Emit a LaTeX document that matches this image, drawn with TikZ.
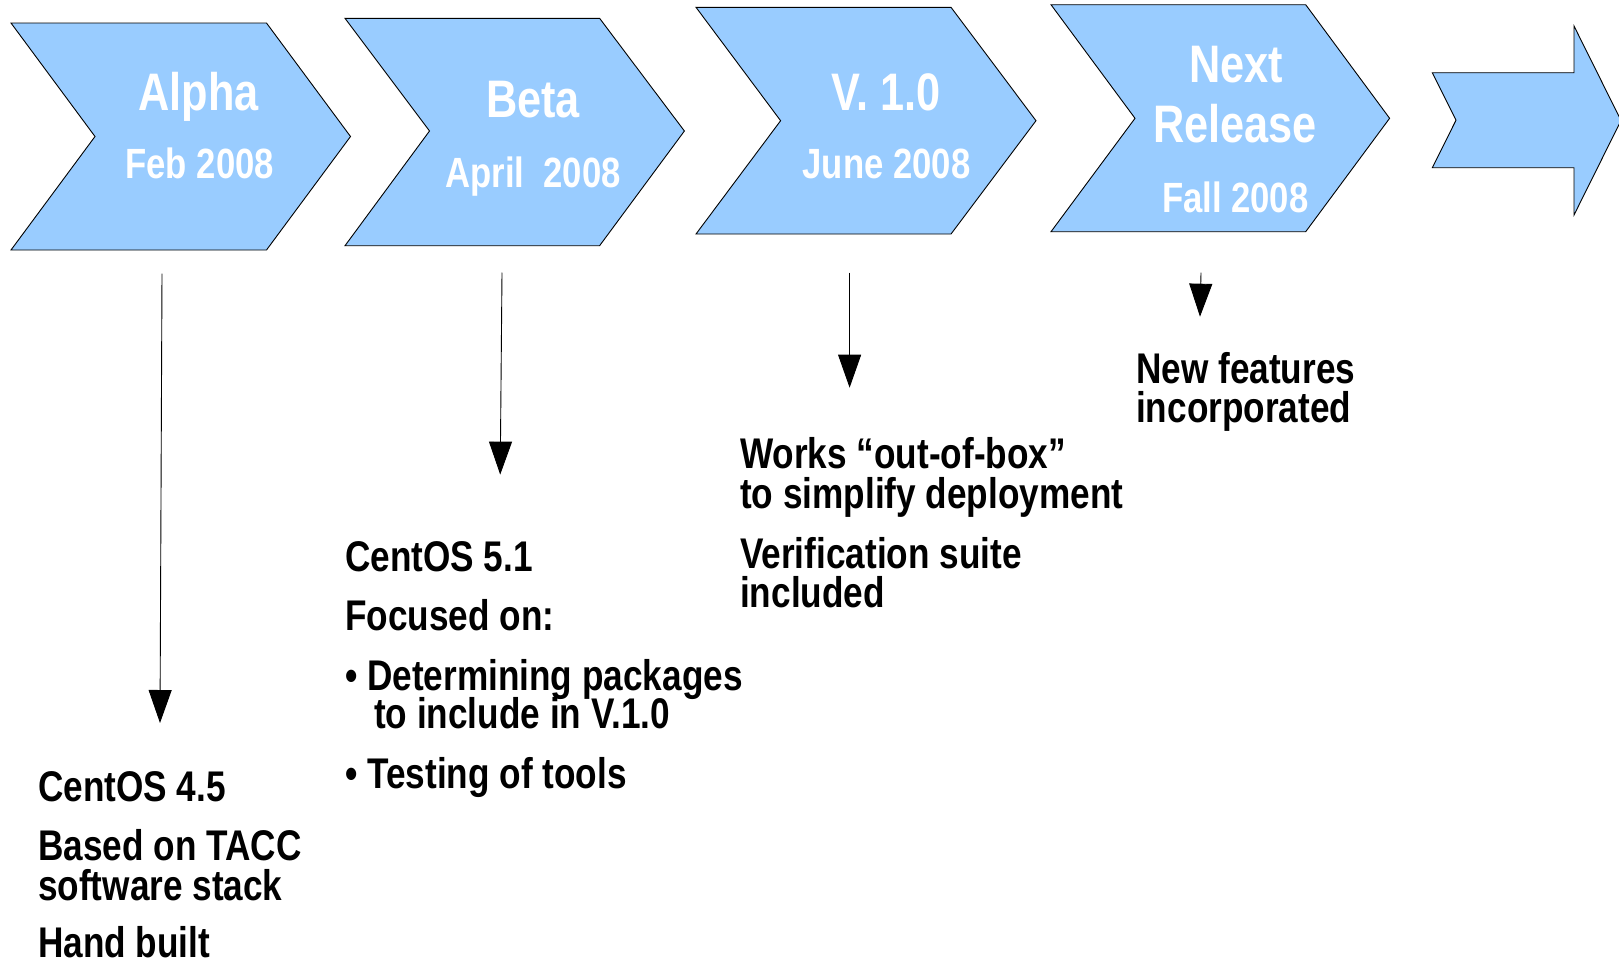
\documentclass[tikz,border=0pt]{standalone}
\usepackage{fontspec}
\setmainfont{Liberation Sans}[FakeStretch=0.82]
\usetikzlibrary{arrows.meta}
\definecolor{phasefill}{HTML}{99CCFF}
\begin{document}
\begin{tikzpicture}[x=1pt,y=-1pt,
  phase/.style={fill=phasefill, draw=black, line width=0.9pt, line join=miter},
  title/.style={text=white, font=\fontsize{52.8}{52.8}\selectfont\bfseries, anchor=base, inner sep=0pt},
  date/.style={text=white, font=\fontsize{42.3}{42.3}\selectfont\bfseries, anchor=base, inner sep=0pt},
  note/.style={text=black, font=\fontsize{42.9}{42.9}\selectfont\bfseries, anchor=base west, inner sep=0pt},
  drop/.style={draw=black, line width=0.9pt, -{Triangle[length=33pt,width=23pt]}}
]
\useasboundingbox (0,0) rectangle (1619,961);

% release phases
\draw[phase] (11,23) -- (266.5,23) -- (350.5,136.5) -- (266.5,250) -- (11,250) -- (95,136.5) -- cycle;
\draw[phase] (345,18.3) -- (599.6,18.3) -- (684.4,131) -- (599.6,245.7) -- (345,245.7) -- (429.5,131) -- cycle;
\draw[phase] (696,7.3) -- (951,7.3) -- (1036,120.7) -- (951,234) -- (696,234) -- (780.6,120.7) -- cycle;
\draw[phase] (1051,4.7) -- (1305.7,4.7) -- (1389.6,118.3) -- (1305.7,231.7) -- (1051,231.7) -- (1135,118.3) -- cycle;
% continuing arrow
\draw[phase] (1432.3,72.7) -- (1574,72.7) -- (1574,26) -- (1621,120.5) -- (1574,215) -- (1574,167.7) -- (1432.3,167.7) -- (1456,120.2) -- cycle;

% phase labels
\node[title] (alpha) at (198.5,110) {Alpha};
\node[date]  (alphadate) at (199.7,178.5) {Feb 2008};
\node[title] (beta) at (533,117) {Beta};
\node[date]  (betadate) at (533,187) {April~~2008};
\node[title] (vone) at (886,110) {V. 1.0};
\node[date]  (vonedate) at (886.5,178.5) {June 2008};
\node[title] (next) at (1236,82) {Next};
\node[title] (release) at (1235,142.5) {Release};
\node[date]  (nextdate) at (1235.3,212) {Fall 2008};

% drop arrows
\coordinate (a1s) at (162,273.5);
\coordinate (a1e) at (160,723);
\coordinate (a2s) at (502,272.5);
\coordinate (a2e) at (500.2,474.6);
\coordinate (a3s) at (849.6,272.7);
\coordinate (a3e) at (849.6,387.7);
\coordinate (a4s) at (1201,272.7);
\coordinate (a4e) at (1200,316.7);
\draw[drop] (a1s) -- (a1e);
\draw[drop] (a2s) -- (a2e);
\draw[drop] (a3s) -- (a3e);
\draw[drop] (a4s) -- (a4e);

% alpha notes
\node[note] (n1a) at (38,801) {CentOS 4.5};
\node[note] (n1b) at (38,860) {Based on TACC};
\node[note] (n1c) at (38,900) {software stack};
\node[note] (n1d) at (38,957) {Hand built};

% beta notes
\node[note] (n2a) at (345,571) {CentOS 5.1};
\node[note] (n2b) at (345,630) {Focused on:};
\node[note] (n2c) at (345,690) {• Determining packages};
\node[note] (n2d) at (374,728) {to include in V.1.0};
\node[note] (n2e) at (345,788) {• Testing of tools};

% v1.0 notes
\node[note] (n3a) at (740,468) {Works “out-of-box”};
\node[note] (n3b) at (740,508) {to simplify deployment};
\node[note] (n3c) at (740,568) {Verification suite};
\node[note] (n3d) at (740,607) {included};

% next release notes
\node[note] (n4a) at (1136,383.5) {New features};
\node[note] (n4b) at (1136,422.5) {incorporated};
\end{tikzpicture}
\end{document}
